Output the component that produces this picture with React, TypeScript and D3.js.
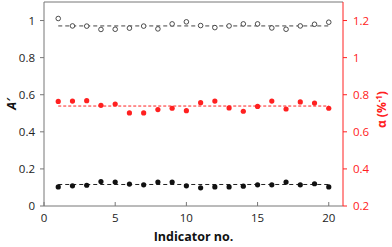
import React from "react";
import * as d3 from "d3";

// indicator numbers 1..20
const indicators = [1, 2, 3, 4, 5, 6, 7, 8, 9, 10, 11, 12, 13, 14, 15, 16, 17, 18, 19, 20];

// A' (open circles, left axis)
const aOpen = [1.011, 0.971, 0.97, 0.952, 0.953, 0.959, 0.97, 0.955, 0.982, 0.993, 0.973, 0.962, 0.971, 0.982, 0.982, 0.96, 0.953, 0.971, 0.98, 0.991];
const aOpenMean = 0.971;

// A' (filled black, left axis)
const aFilled = [0.103, 0.109, 0.112, 0.132, 0.129, 0.118, 0.114, 0.129, 0.129, 0.109, 0.098, 0.103, 0.103, 0.107, 0.114, 0.114, 0.129, 0.114, 0.12, 0.103];
const aFilledMean = 0.116;

// alpha (red, right axis)
const alpha = [0.764, 0.766, 0.768, 0.743, 0.75, 0.702, 0.702, 0.72, 0.727, 0.714, 0.757, 0.766, 0.729, 0.711, 0.737, 0.766, 0.723, 0.761, 0.755, 0.727];
const alphaMean = 0.739;

const xTicks = [0, 5, 10, 15, 20];
const leftTicks = [0, 0.2, 0.4, 0.6, 0.8, 1];
const rightTicks = [0.2, 0.4, 0.6, 0.8, 1, 1.2];

const RED = "#ff2020";

export default function App() {
  const width = 392;
  const height = 247;
  const margin = { top: 2, right: 49, bottom: 41, left: 44 };

  const x = d3.scaleLinear().domain([0, 21]).range([margin.left, width - margin.right]);
  const yL = d3.scaleLinear().domain([0, 1.1]).range([height - margin.bottom, margin.top]);
  const yR = d3.scaleLinear().domain([0.2, 1.3]).range([height - margin.bottom, margin.top]);

  const x0 = margin.left;
  const x1 = width - margin.right;
  const yb = height - margin.bottom;
  const font = "'Open Sans', 'Noto Sans', sans-serif";

  return (
    <svg width={width} height={height} style={{ position: "absolute", left: 0, top: 0 }} fontFamily={font}>
      <rect width={width} height={height} fill="white" />

      {/* frame */}
      <line x1={x0} x2={x1} y1={margin.top} y2={margin.top} stroke="#777" strokeWidth={1} />
      <line x1={x0} x2={x0} y1={margin.top} y2={yb} stroke="#777" strokeWidth={1} />
      <line x1={x0} x2={x1} y1={yb} y2={yb} stroke="#777" strokeWidth={1} />
      <line x1={x1} x2={x1} y1={margin.top} y2={yb} stroke={RED} strokeWidth={1} />

      {/* x axis */}
      {xTicks.map((t) => (
        <g key={t}>
          <line x1={x(t)} x2={x(t)} y1={yb - 4} y2={yb} stroke="#777" />
          <text x={x(t)} y={yb + 16} textAnchor="middle" fontSize={11.5} fill="#222">
            {t}
          </text>
        </g>
      ))}

      {/* left axis */}
      {leftTicks.map((t) => (
        <g key={t}>
          <line x1={x0 - 4} x2={x0} y1={yL(t)} y2={yL(t)} stroke="#777" />
          <text x={x0 - 9} y={yL(t) + 4} textAnchor="end" fontSize={11.5} fill="#222">
            {t}
          </text>
        </g>
      ))}

      {/* right axis */}
      {rightTicks.map((t) => (
        <g key={t}>
          <line x1={x1} x2={x1 + 4} y1={yR(t)} y2={yR(t)} stroke={RED} />
          <text x={x1 + 10} y={yR(t) + 4} textAnchor="start" fontSize={11.5} fill={RED}>
            {t}
          </text>
        </g>
      ))}

      {/* mean lines */}
      <line x1={x(1)} x2={x(20)} y1={yL(aOpenMean)} y2={yL(aOpenMean)} stroke="#444" strokeDasharray="4,3" />
      <line x1={x(1)} x2={x(20)} y1={yL(aFilledMean)} y2={yL(aFilledMean)} stroke="#222" strokeDasharray="4,3" />
      <line x1={x(1)} x2={x(20)} y1={yR(alphaMean)} y2={yR(alphaMean)} stroke={RED} strokeDasharray="3,2" />

      {/* points */}
      {indicators.map((d, i) => (
        <circle key={"o" + d} cx={x(d)} cy={yL(aOpen[i])} r={2.3} fill="white" stroke="#222" strokeWidth={0.8} />
      ))}
      {indicators.map((d, i) => (
        <circle key={"r" + d} cx={x(d)} cy={yR(alpha[i])} r={2.6} fill={RED} />
      ))}
      {indicators.map((d, i) => (
        <circle key={"b" + d} cx={x(d)} cy={yL(aFilled[i])} r={2.6} fill="#111" />
      ))}

      {/* titles */}
      <text
        transform={`translate(16, ${yL(0.55)}) rotate(-90)`}
        textAnchor="middle"
        fontSize={12.5}
        fontWeight="bold"
        fontStyle="italic"
        fill="#111"
      >
        A′
      </text>
      <text
        transform={`translate(386, ${yR(0.72)}) rotate(-90)`}
        textAnchor="middle"
        fontSize={12}
        fontWeight="bold"
        fill={RED}
      >
        α (%<tspan dy={-4} fontSize={8}>-1</tspan><tspan dy={4}>)</tspan>
      </text>
      <text x={(x0 + x1) / 2} y={height - 6} textAnchor="middle" fontSize={12.5} fontWeight="bold" fill="#111">
        Indicator no.
      </text>
    </svg>
  );
}
